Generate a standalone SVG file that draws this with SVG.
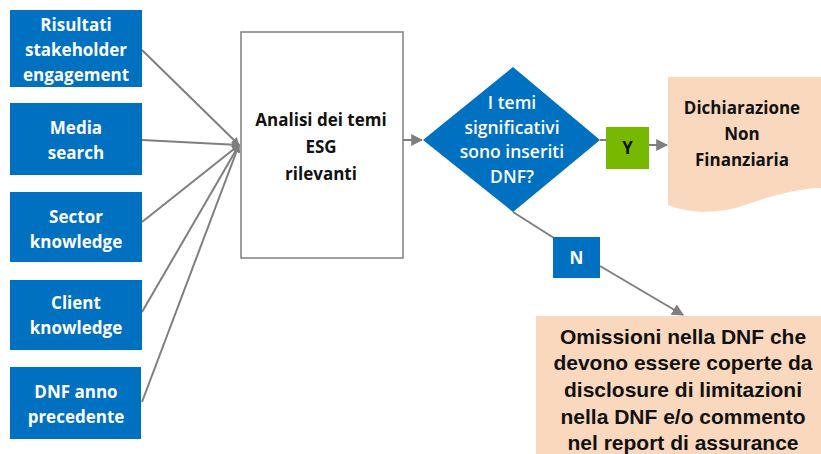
<svg xmlns="http://www.w3.org/2000/svg" width="821" height="454" viewBox="0 0 821 454">
<defs>
<marker id="ah" viewBox="0 0 10 10" refX="9" refY="5" markerWidth="8" markerHeight="8" orient="auto" markerUnits="userSpaceOnUse">
<path d="M0,0 L10,5 L0,10 Z" fill="#7f7f7f"/>
</marker>
<marker id="ah2" viewBox="0 0 10 10" refX="9" refY="5" markerWidth="12" markerHeight="12" orient="auto" markerUnits="userSpaceOnUse">
<path d="M0,0 L10,5 L0,10 Z" fill="#7f7f7f"/>
</marker>
</defs>
<style>
.src{fill:#0070c0}
.wt{fill:#fff;font-family:"Open Sans","Liberation Sans",sans-serif;font-weight:700;font-size:17px;text-anchor:middle}
.dt{fill:#fff;font-family:"Open Sans","Liberation Sans",sans-serif;font-weight:600;font-size:17.5px;text-anchor:middle}
.bt{fill:#111;font-family:"Open Sans","Liberation Sans",sans-serif;font-weight:700;font-size:17px;text-anchor:middle}
.at{fill:#111;font-family:"Liberation Sans",Arial,sans-serif;font-weight:700;font-size:21px;text-anchor:middle}
.ln{stroke:#7f7f7f;stroke-width:2;fill:none}
.doc{fill:#fad8bd}
</style>
<rect width="821" height="454" fill="#fff"/>
<g id="connectors">
<line class="ln" x1="142" y1="50" x2="239" y2="145" marker-end="url(#ah)"/>
<line class="ln" x1="142" y1="140" x2="239" y2="145" marker-end="url(#ah)"/>
<line class="ln" x1="142" y1="222" x2="239" y2="145" marker-end="url(#ah)"/>
<line class="ln" x1="142" y1="312" x2="239" y2="145" marker-end="url(#ah)"/>
<line class="ln" x1="142" y1="402" x2="239" y2="145" marker-end="url(#ah)"/>
<line class="ln" x1="403" y1="140" x2="422" y2="140" marker-end="url(#ah2)"/>
<line class="ln" x1="600" y1="140" x2="607" y2="140"/>
<line class="ln" x1="649" y1="145" x2="667" y2="145" marker-end="url(#ah2)"/>
<line class="ln" x1="513" y1="212" x2="554" y2="238"/>
<line class="ln" x1="600" y1="266" x2="683" y2="315" marker-end="url(#ah2)"/>
</g>
<g id="n1"><rect class="src" x="10" y="10" width="132" height="77"/>
<text class="wt" x="76" y="31">Risultati</text><text class="wt" x="76" y="56">stakeholder</text><text class="wt" x="76" y="81">engagement</text></g>
<g id="n2"><rect class="src" x="10" y="103" width="132" height="72"/>
<text class="wt" x="76" y="134">Media</text><text class="wt" x="76" y="159">search</text></g>
<g id="n3"><rect class="src" x="10" y="192" width="132" height="70"/>
<text class="wt" x="76" y="223">Sector</text><text class="wt" x="76" y="248">knowledge</text></g>
<g id="n4"><rect class="src" x="10" y="280" width="132" height="70"/>
<text class="wt" x="76" y="309">Client</text><text class="wt" x="76" y="334">knowledge</text></g>
<g id="n5"><rect class="src" x="10" y="367" width="131" height="72"/>
<text class="wt" x="76" y="398">DNF anno</text><text class="wt" x="76" y="423">precedente</text></g>
<g id="analisi"><rect x="241" y="32" width="162" height="226" fill="#fff" stroke="#7f7f7f" stroke-width="1.5"/>
<text class="bt" x="321" y="126">Analisi dei temi</text><text class="bt" x="321" y="153">ESG</text><text class="bt" x="321" y="180">rilevanti</text></g>
<g id="decisione"><polygon points="513,67 600,140 513,212 423,140" fill="#0070c0"/>
<text class="dt" x="512" y="109">I temi</text><text class="dt" x="512" y="134">significativi</text><text class="dt" x="512" y="158">sono inseriti</text><text class="dt" x="512" y="183">DNF?</text></g>
<g id="yes"><rect x="606" y="127" width="43" height="42" fill="#76b900"/>
<text class="bt" x="627.5" y="154">Y</text></g>
<g id="dnf"><path class="doc" d="M668,77 H821 V188 C800,188 770,196 745,205 C720,214 690,214 668,205 Z"/>
<text class="bt" x="742" y="114">Dichiarazione</text><text class="bt" x="742" y="140">Non</text><text class="bt" x="742" y="166">Finanziaria</text></g>
<g id="no"><rect x="553" y="237" width="47" height="41" fill="#0070c0"/>
<text class="wt" x="576.5" y="264">N</text></g>
<g id="omissioni"><rect class="doc" x="536" y="316" width="285" height="138"/>
<text class="at" x="683" y="344">Omissioni nella DNF che</text><text class="at" x="683" y="370">devono essere coperte da</text><text class="at" x="683" y="397">disclosure di limitazioni</text><text class="at" x="683" y="424">nella DNF e/o commento</text><text class="at" x="683" y="450">nel report di assurance</text></g>
</svg>
